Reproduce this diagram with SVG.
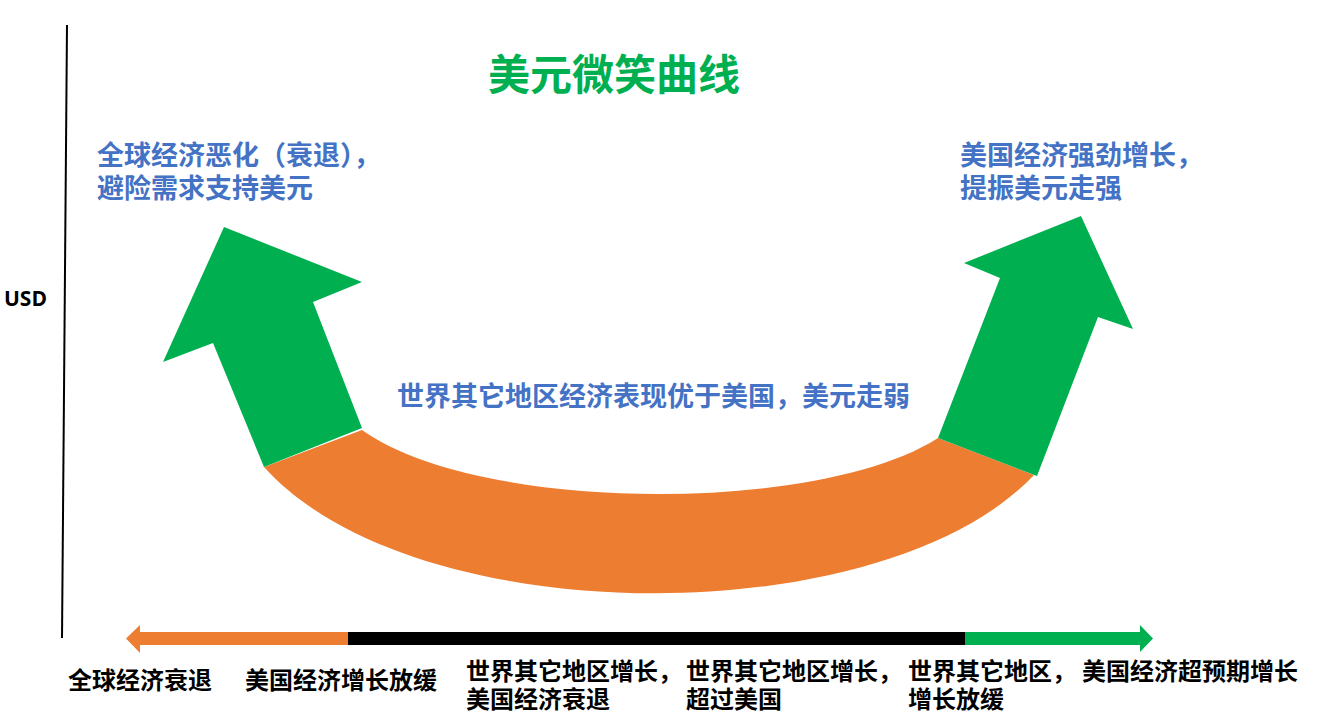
<svg xmlns="http://www.w3.org/2000/svg" width="1321" height="728" viewBox="0 0 1321 728">
<style>
.cjk{font-family:"Noto Sans CJK SC","Noto Sans CJK JP",sans-serif;font-weight:bold}
.blue{fill:#4472C4;font-size:27px}
.blk{fill:#000;font-size:24px}
.green{fill:#00B050}
.orange{fill:#ED7D31}
</style>
<rect width="1321" height="728" fill="#fff"/>
<g id="axis">
<line x1="67" y1="25" x2="62" y2="638" stroke="#000" stroke-width="2"/>
<text x="4" y="306" font-family="'Open Sans','Liberation Sans',sans-serif" font-weight="bold" font-size="21" fill="#000">USD</text>
</g>
<g id="title"><text class="cjk green" x="614" y="90" font-size="42" text-anchor="middle">美元微笑曲线</text></g>
<g id="smile">
<path class="orange" d="M264,467 C414,634 884,634 1034,475 L938,438 C820,514 480,514 362,430 Z"/>
<polygon class="green" points="224,227 362,282 313,302 362,428 264,467 213,343 163,362"/>
<polygon class="green" points="1081,216 1133,329 1098,317 1037,476 938,438 1000,278 964,263"/>
</g>
<g id="label-left"><text class="cjk blue" x="97" y="165">全球经济恶化（衰退），</text><text class="cjk blue" x="97" y="198">避险需求支持美元</text></g>
<g id="label-right"><text class="cjk blue" x="960" y="165">美国经济强劲增长，</text><text class="cjk blue" x="960" y="198">提振美元走强</text></g>
<g id="label-mid"><text class="cjk blue" x="397" y="406">世界其它地区经济表现优于美国，美元走弱</text></g>
<g id="connectors">
<rect x="347" y="632" width="619" height="13" fill="#000"/>
<polygon class="orange" points="348,632 140,632 140,625 126,638.5 140,653 140,645 348,645"/>
<polygon class="green" points="965,632 1140,632 1140,625 1153,638.5 1140,652 1140,645 965,645"/>
</g>
<g id="timeline-labels">
<text class="cjk blk" x="68" y="689">全球经济衰退</text>
<text class="cjk blk" x="245" y="689">美国经济增长放缓</text>
<text class="cjk blk" x="466" y="680">世界其它地区增长，</text>
<text class="cjk blk" x="466" y="708">美国经济衰退</text>
<text class="cjk blk" x="686" y="680">世界其它地区增长，</text>
<text class="cjk blk" x="686" y="708">超过美国</text>
<text class="cjk blk" x="908" y="680">世界其它地区，</text>
<text class="cjk blk" x="908" y="708">增长放缓</text>
<text class="cjk blk" x="1082" y="680">美国经济超预期增长</text>
</g>
</svg>
